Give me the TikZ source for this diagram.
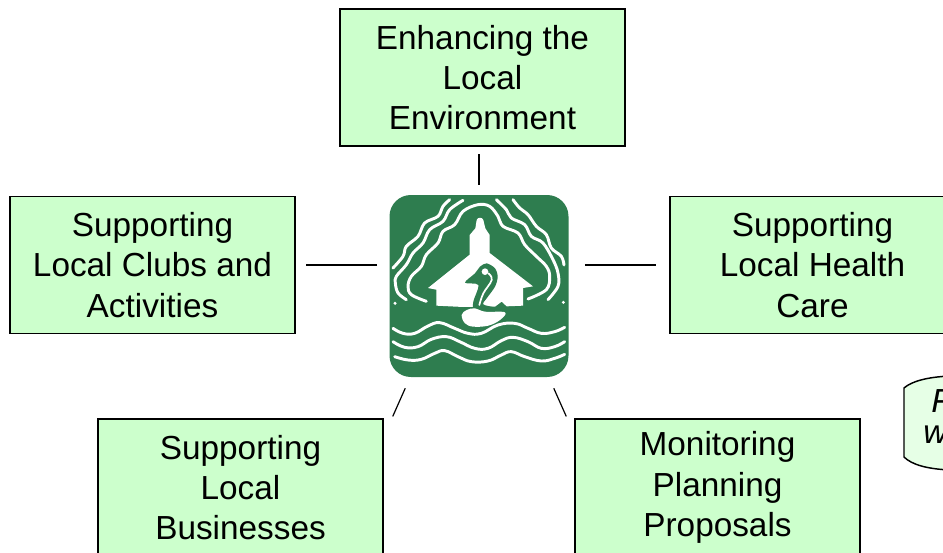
\documentclass[tikz,border=0pt]{standalone}
\usepackage{fontspec}
\setmainfont{Liberation Sans}
\usetikzlibrary{calc}
\definecolor{boxgreen}{RGB}{204,255,204}
\definecolor{notegreen}{RGB}{230,255,230}
\definecolor{logogreen}{RGB}{46,125,79}
\tikzset{
  greenbox/.style={draw=black,line width=1.1pt,fill=boxgreen,minimum width=213.75pt,minimum height=102.5pt,inner sep=0pt,align=center,font=\fontsize{25}{30.2}\selectfont},
  link/.style={draw=black,line width=0.9pt},
  notetext/.style={inner sep=0pt,anchor=west,font=\fontsize{25}{30}\selectfont\itshape},
  band/.style={draw=white,line width=2.2pt,line cap=round,line join=round},
}
\begin{document}
\begin{tikzpicture}[x=0.75pt,y=0.75pt,yscale=-1]
\clip (0,0) rectangle (943,553);

% Boxes
\node [greenbox] (envbox) at (482.5,77.5) {Enhancing the\\Local\\Environment};
\node [greenbox] (clubbox) at (152.5,265) {Supporting\\Local Clubs and\\Activities};
\node [greenbox] (carebox) at (812.5,265) {Supporting\\Local Health\\Care};
\node [greenbox] (bizbox) at (240.5,487.5) {Supporting\\Local\\Businesses};
\node [greenbox] (planbox) at (717.5,487.5) {Monitoring\\Planning\\Proposals};

% Logo
\node [fill=logogreen,rounded corners=16pt,minimum width=134.25pt,minimum height=136.5pt,inner sep=0pt] (logo) at (479,286) {};
\begin{scope}[shift={(380,185)},scale=1/3]
%Tree bands
\draw [band] plot [smooth,tension=0.6] coordinates {(39,249) (69,214) (79,184) (114,154) (134,114) (174,94) (189,64) (209,44)};
\draw [band] plot [smooth,tension=0.6] coordinates {(79,344) (54,324) (46,294) (49,274) (79,239) (99,204) (129,174) (149,134) (189,109) (209,74) (249,46)};
\draw [band] plot [smooth,tension=0.6] coordinates {(139,349) (94,329) (84,304) (94,274) (124,244) (139,209) (174,174) (189,139) (224,119) (249,79) (294,59) (329,64) (354,94) (369,124) (414,144) (434,179) (469,214) (499,244) (509,274) (499,314) (444,342)};
\draw [band] plot [smooth,tension=0.6] coordinates {(349,44) (379,74) (394,99) (434,119) (454,154) (489,174) (519,224) (534,264) (534,304) (504,344)};
\draw [band] plot [smooth,tension=0.6] coordinates {(399,44) (419,69) (444,89) (469,124) (499,149) (514,189) (544,214) (552,240)};
\fill [white] (45,355) circle (5);
\fill [white] (550,352) circle (5);
%House
\fill [white] (290,105) .. controls (292,96) and (308,96) .. (310,105) -- (316,130) -- (329,150) -- (329,204) -- (459,304) -- (429,309) -- (429,362) -- (380,364) -- (365,350) -- (345,365) -- (250,366) -- (169,362) -- (169,314) -- (144,309) -- (269,209) -- (269,150) -- (286,130) -- cycle;
%Swan
\fill [logogreen] plot [smooth cycle,tension=0.5] coordinates {(255,293) (285,265) (300,245) (320,235) (345,250) (353,275) (345,305) (320,340) (310,358) (345,368) (375,382) (345,385) (285,375) (280,350) (295,300)};
\fill [white] plot [smooth cycle,tension=0.6] coordinates {(245,390) (260,375) (285,370) (315,380) (375,382) (360,405) (325,422) (280,425) (255,415)};
\fill [white] (315,260) circle (10);
\draw [white,line width=1.3pt,line cap=round] plot [smooth,tension=0.7] coordinates {(325,265) (335,285) (310,325) (298,360)};
%Water
\draw [band] plot [smooth,tension=0.7] coordinates {(39,430) (69,445) (104,445) (144,423) (179,413) (224,430) (264,445) (304,445) (354,420) (404,415) (444,430) (484,445) (524,440) (554,427)};
\draw [band] plot [smooth,tension=0.7] coordinates {(39,470) (74,487) (114,485) (154,463) (199,455) (239,470) (284,490) (324,490) (364,467) (399,457) (444,470) (484,490) (524,485) (554,470)};
\draw [band] plot [smooth,tension=0.7] coordinates {(44,515) (84,525) (124,523) (164,505) (194,497) (234,515) (274,530) (324,528) (364,510) (394,500) (434,515) (484,528) (524,520) (554,508)};
\end{scope}

% Links
\draw [link,shorten <=10*0.75pt,shorten >=7*0.75pt] (logo.north) -- (logo.north |- envbox.south);
\draw [link,shorten <=12*0.75pt,shorten >=10*0.75pt] (logo.west |- clubbox.east) -- (clubbox.east);
\draw [link,shorten <=16*0.75pt,shorten >=13*0.75pt] (logo.east |- carebox.west) -- (carebox.west);
\draw [link] ($(logo.south west)+(16,11)$) -- ($(bizbox.north east)+(9,-2)$);
\draw [link] ($(logo.south east)+(-15,11)$) -- ($(planbox.north west)+(-8,-2)$);

% Note at the right edge
\draw [line width=1.1pt,fill=notegreen] (904,388) .. controls (912,381) and (928,377) .. (950,376) -- (950,470) .. controls (928,469) and (912,465) .. (904,457) -- cycle;
\node [notetext] (noteF) at (931,401) {F};
\node [notetext] (noteW) at (923,435) {w};

\end{tikzpicture}
\end{document}
